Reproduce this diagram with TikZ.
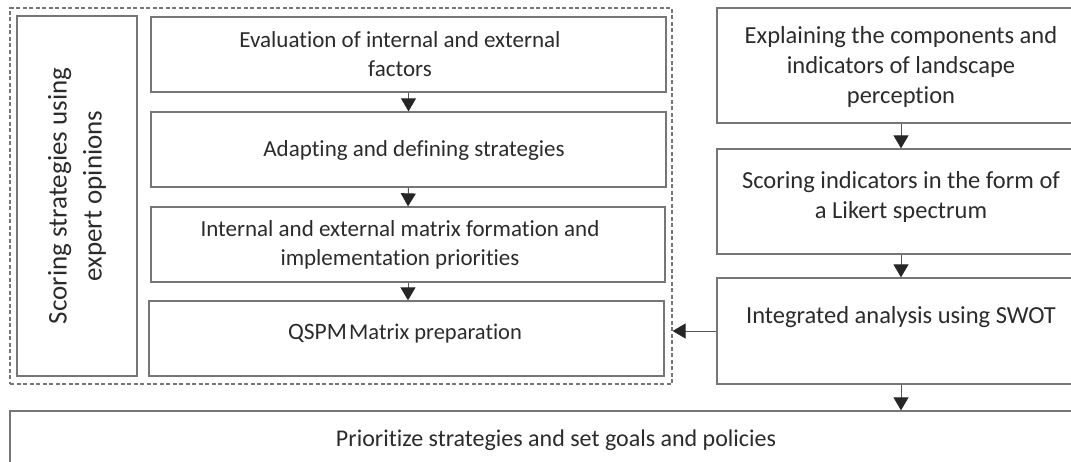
\documentclass[tikz,border=0pt]{standalone}
\usepackage{fontspec}
\setmainfont{Carlito}[Ligatures=NoCommon]
\usetikzlibrary{arrows.meta}
\definecolor{boxgray}{HTML}{767676}
\definecolor{txtgray}{HTML}{2B2B2B}
\definecolor{arrgray}{HTML}{555555}
\definecolor{tipcol}{HTML}{262626}
\tikzset{
  box/.style={draw=boxgray, line width=1.3pt, rectangle, inner sep=0pt},
  dashbox/.style={draw=boxgray, line width=1.2pt, dash pattern=on 4pt off 2.5pt, rectangle, inner sep=0pt},
  txt/.style={text=txtgray, align=center, inner sep=0pt},
  ltxt/.style={txt, font=\fontsize{23}{29}\selectfont},
  rtxt/.style={txt, font=\fontsize{24.5}{30}\selectfont},
  arr/.style={draw=arrgray, line width=1pt, -{Triangle[width=15pt,length=13pt,color=tipcol,fill=tipcol]}}
}
\begin{document}
\begin{tikzpicture}[x=1pt,y=-1pt]
\useasboundingbox (0,0) rectangle (1071,461);
\clip (0,0) rectangle (1071,461);
% dashed group
\node[dashbox, minimum width=662pt, minimum height=376pt] (grp) at (341,196) {};
\node[box, minimum width=120pt, minimum height=360pt] (lb) at (77,196) {};
\node[txt, rotate=90, font=\fontsize{27}{35}\selectfont] (lt) at (77,196) {Scoring strategies using\\expert opinions};
% left column boxes
\node[box, minimum width=515pt, minimum height=75pt] (b1) at (408.5,54.5) {};
\node[box, minimum width=515pt, minimum height=75pt] (b2) at (408.5,149.5) {};
\node[box, minimum width=514pt, minimum height=75pt] (b3) at (408,244.5) {};
\node[box, minimum width=515pt, minimum height=75pt] (b4) at (406.5,338.5) {};
\node[ltxt] (t1) at (400,54) {Evaluation of internal and external\\factors};
\node[ltxt] (t2) at (414,150) {Adapting and defining strategies};
\node[ltxt] (t3) at (400,245) {Internal and external matrix formation and\\implementation priorities};
\node[txt] (t4) at (405,334) {{\fontsize{23.5}{28}\selectfont QSPM} {\fontsize{22.5}{28}\selectfont Matrix preparation}};
% right column boxes
\node[box, minimum width=368pt, minimum height=115pt] (r1) at (901,65.5) {};
\node[box, minimum width=368pt, minimum height=105pt] (r2) at (901,201.5) {};
\node[box, minimum width=368pt, minimum height=106pt] (r3) at (901,331) {};
\node[rtxt] (tr1) at (901,67) {Explaining the components and\\indicators of landscape\\perception};
\node[rtxt] (tr2) at (901,197) {Scoring indicators in the form of\\a Likert spectrum};
\node[rtxt] (tr3) at (901,317) {Integrated analysis using SWOT};
% bottom box
\node[box, minimum width=1100pt, minimum height=70pt] (bot) at (560,446) {};
\node[txt, font=\fontsize{24}{30}\selectfont] (tb) at (556,440) {Prioritize strategies and set goals and policies};
% arrows
\draw[arr] (b1.south) -- (b2.north);
\draw[arr] (b2.south) -- (b3.north);
\draw[arr] (b3.south) -- (b3.south |- b4.north);
\draw[arr] (r1.south) -- (r2.north);
\draw[arr] (r2.south) -- (r3.north);
\draw[arr] (r3.south) -- (r3.south |- bot.north);
\draw[arr] (r3.west) -- (r3.west -| grp.east);
\end{tikzpicture}
\end{document}
